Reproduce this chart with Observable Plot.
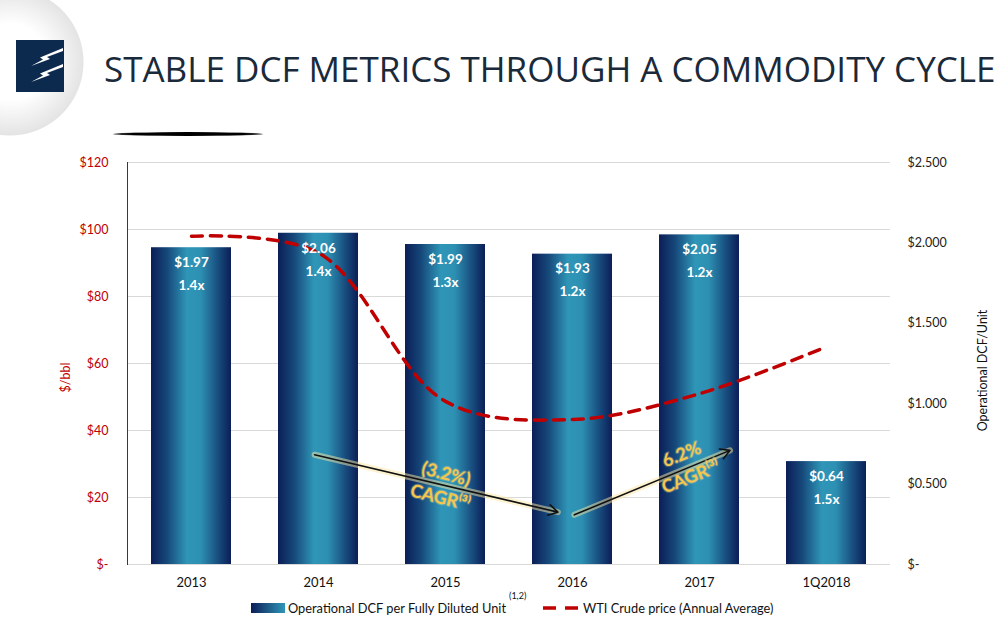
<!DOCTYPE html>
<html>
<head>
<meta charset="utf-8">
<script src="https://cdn.jsdelivr.net/npm/d3@7"></script>
<script src="https://cdn.jsdelivr.net/npm/@observablehq/plot@0.6"></script>
<style>
  html, body { margin: 0; padding: 0; background: #fff; }
  body { width: 999px; height: 627px; position: relative; overflow: hidden; font-family: Lato, "Open Sans", sans-serif; }
  #bgcircle { position: absolute; left: 0; top: 0; width: 100px; height: 150px;
    background: radial-gradient(circle at 10px 62px, #ffffff 0px, #ffffff 38px, #e4e4e4 73px, rgba(255,255,255,0) 74px); }
  #logo { position: absolute; left: 16px; top: 40px; }
  #title { position: absolute; left: 104px; top: 45px; font-family: "Open Sans", sans-serif; font-size: 35px; line-height: 48px;
    color: #1a2a3a; white-space: nowrap; }
  #swoosh { position: absolute; left: 113px; top: 132px; width: 150px; height: 4px; border-radius: 50%;
    background: radial-gradient(ellipse at center, #000 0%, #000 55%, rgba(0,0,0,0.2) 100%); }
  #chart { position: absolute; left: 0; top: 140px; }
  #legend { position: absolute; top: 600px; left: 251px; font-size: 12.8px; color: #111; white-space: nowrap; }
  #legend .sw { position: absolute; top: 3px; width: 34px; height: 10px; background: linear-gradient(to right, #0b1e57, #2f96b8); }
  #legend .lbl { position: absolute; top: 0; }
  #legend .sup { position: absolute; top: -10px; font-size: 9px; }
</style>
</head>
<body>
<div id="bgcircle"></div>
<svg id="logo" width="48" height="52" viewBox="0 0 48 52">
  <rect x="0" y="0" width="48" height="52" fill="#0c2a4e"/>
  <path d="M47 11 L31 17 L34 19 L15 26 L27 19.5 L24 17.5 L47 8 Z" fill="#ffffff"/>
  <path d="M47 27 L31 33 L34 35 L15 42 L27 35.5 L24 33.5 L47 24 Z" fill="#ffffff"/>
</svg>
<div id="title">STABLE DCF METRICS THROUGH A COMMODITY CYCLE</div>
<div id="swoosh"></div>
<div id="chart"></div>
<div id="legend">
  <div class="sw" style="left:0"></div>
  <div class="lbl" style="left:37px">Operational DCF per Fully Diluted Unit</div>
  <div class="sup" style="left:258px">(1,2)</div>
  <svg style="position:absolute;left:292px;top:2px" width="40" height="12"><line x1="0" y1="6" x2="38" y2="6" stroke="#c00000" stroke-width="3.5" stroke-dasharray="13,9"/></svg>
  <div class="lbl" style="left:332px">WTI Crude price (Annual Average)</div>
</div>
<script>
// ---- data ----
const years = ["2013", "2014", "2015", "2016", "2017", "1Q2018"];
const dcfPerUnit = [1.97, 2.06, 1.99, 1.93, 2.05, 0.64];
const coverage = ["1.4x", "1.4x", "1.3x", "1.2x", "1.2x", "1.5x"];
const wtiPrice = [98, 93, 48.7, 43.3, 51, 65];
const leftTicks = [0, 20, 40, 60, 80, 100, 120];
const rightTicks = [0, 0.5, 1.0, 1.5, 2.0, 2.5];
const cagrLabels = ["(3.2%)\nCAGR⁽³⁾", "6.2%\nCAGR⁽³⁾"];
const cagrFrom = ["2014", "2016"];
const cagrTo = ["2016", "2017"];
const cagrStartWti = [32.5, 14.6];
const cagrEndWti = [14.6, 30.3];

// ---- derived ----
const ratio = 120 / 2.5; // $/bbl per $ DCF on the shared frame
const rows = years.map((y, i) => ({year: y, dcf: dcfPerUnit[i], cov: coverage[i], wti: wtiPrice[i]}));
const arrows = cagrFrom.map((f, i) => ({from: f, to: cagrTo[i], y1: cagrStartWti[i], y2: cagrEndWti[i]}));
const label1 = [{x: "2015", y: 24, text: cagrLabels[0]}];
const label2 = [{x: "2017", y: 30, text: cagrLabels[1]}];

const red = "#c00000";
const gold = "#f6c64a";
const glow = "#fbe7a1";

const plot = Plot.plot({
  width: 999,
  height: 460,
  marginTop: 22,
  marginBottom: 36,
  marginLeft: 127,
  marginRight: 109,
  style: {fontFamily: "Lato, 'Open Sans', sans-serif", fontSize: "12px", background: "transparent", overflow: "visible"},
  x: {domain: years, paddingInner: 0.37, paddingOuter: 0.185},
  y: {domain: [0, 120]},
  marks: [
    Plot.gridY(leftTicks.slice(1), {stroke: "#d9d9d9", strokeOpacity: 1}),
    Plot.ruleY([0], {stroke: "#d9d9d9"}),
    Plot.frame({anchor: "left", stroke: red}),
    Plot.barY(rows, {x: "year", y: d => d.dcf * ratio, fill: "url(#barGrad)"}),
    Plot.line(rows, {x: "year", y: "wti", stroke: red, strokeWidth: 3.5, strokeDasharray: "11,8", curve: "catmull-rom"}),
    Plot.text(rows, {x: "year", y: d => d.dcf * ratio, text: d => "$" + d.dcf.toFixed(2), dy: 15, fill: "#ffffff", fontWeight: "bold", fontSize: 13.5}),
    Plot.text(rows, {x: "year", y: d => d.dcf * ratio, text: "cov", dy: 38, fill: "#ffffff", fontWeight: "bold", fontSize: 13.5}),
    Plot.arrow(arrows.slice(0, 1), {x1: "from", y1: "y1", x2: "to", y2: "y2", stroke: glow, strokeOpacity: 0.5, strokeWidth: 6, headLength: 0, insetStart: -4, insetEnd: 15}),
    Plot.arrow(arrows.slice(0, 1), {x1: "from", y1: "y1", x2: "to", y2: "y2", stroke: "#111", strokeWidth: 1.6, headLength: 10, insetStart: -4, insetEnd: 15}),
    Plot.arrow(arrows.slice(1), {x1: "from", y1: "y1", x2: "to", y2: "y2", stroke: glow, strokeOpacity: 0.5, strokeWidth: 6, headLength: 0, insetStart: 2, insetEnd: -33}),
    Plot.arrow(arrows.slice(1), {x1: "from", y1: "y1", x2: "to", y2: "y2", stroke: "#111", strokeWidth: 1.6, headLength: 10, insetStart: 2, insetEnd: -33}),
    Plot.text(label1, {x: "x", y: "y", text: "text", rotate: 14, dx: -2, fill: gold, fontWeight: "bold", fontSize: 18, lineHeight: 1.35, stroke: glow, strokeOpacity: 0.25, strokeWidth: 2}),
    Plot.text(label2, {x: "x", y: "y", text: "text", rotate: -22, dx: -14, fill: gold, fontWeight: "bold", fontSize: 18, lineHeight: 1.35, stroke: glow, strokeOpacity: 0.25, strokeWidth: 2}),
    Plot.axisX({tickSize: 0, tickPadding: 13, fontSize: 13, fill: "#111", label: null}),
    Plot.axisY({anchor: "left", ticks: leftTicks, tickSize: 0, tickPadding: 19, fill: red, fontSize: 12.5,
      tickFormat: d => d === 0 ? "$-" : "$" + d, label: null}),
    Plot.axisY({anchor: "right", ticks: rightTicks.map(v => v * ratio), tickSize: 0, tickPadding: 17, fill: "#222", fontSize: 12.5,
      tickFormat: d => d === 0 ? "$-" : "$" + (d / ratio).toFixed(3), label: null}),
    Plot.text(["Operational DCF/Unit"], {frameAnchor: "right", textAnchor: "middle", rotate: -90, dx: 92, dy: 7, fill: "#111", fontSize: 12.5}),
    Plot.text(["$/bbl"], {frameAnchor: "left", textAnchor: "middle", rotate: -90, dx: -62, dy: 14, fill: red, fontSize: 12.5})
  ]
});

plot.insertAdjacentHTML("afterbegin",
  `<defs><linearGradient id="barGrad" x1="0" y1="0" x2="1" y2="0">
     <stop offset="0" stop-color="#0b1e57"/>
     <stop offset="0.2" stop-color="#16487a"/>
     <stop offset="0.45" stop-color="#2f96b8"/>
     <stop offset="0.62" stop-color="#2d90b3"/>
     <stop offset="0.85" stop-color="#174a7c"/>
     <stop offset="1" stop-color="#0b1e57"/>
   </linearGradient></defs>`);
document.getElementById("chart").appendChild(plot);
</script>
</body>
</html>
